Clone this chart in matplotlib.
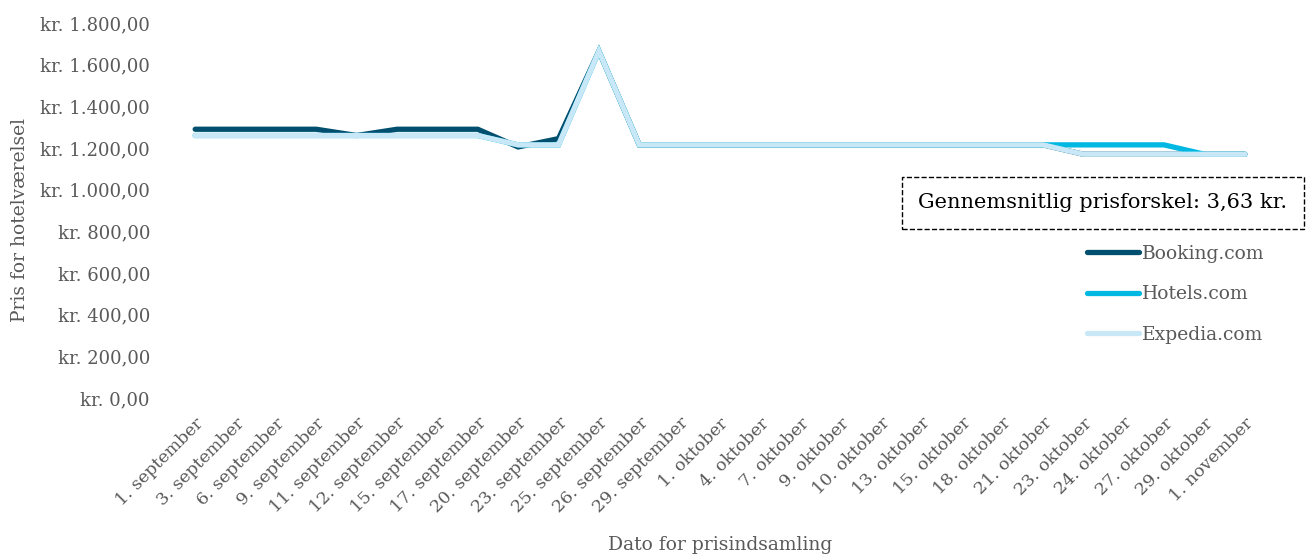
import matplotlib
matplotlib.use("Agg")
import matplotlib.pyplot as plt
from matplotlib.ticker import FuncFormatter, MultipleLocator

datoer = ["1. september", "3. september", "6. september", "9. september",
          "11. september", "12. september", "15. september", "17. september",
          "20. september", "23. september", "25. september", "26. september",
          "29. september", "1. oktober", "4. oktober", "7. oktober",
          "9. oktober", "10. oktober", "13. oktober", "15. oktober",
          "18. oktober", "21. oktober", "23. oktober", "24. oktober",
          "27. oktober", "29. oktober", "1. november"]

booking = [1290, 1290, 1290, 1290, 1260, 1290, 1290, 1290, 1205, 1245,
           1665, 1215, 1215, 1215, 1215, 1215, 1215, 1215, 1215, 1215,
           1215, 1215, 1170, 1170, 1170, 1170, 1170]
hotels = [1260, 1260, 1260, 1260, 1260, 1260, 1260, 1260, 1215, 1215,
          1665, 1215, 1215, 1215, 1215, 1215, 1215, 1215, 1215, 1215,
          1215, 1215, 1215, 1215, 1215, 1170, 1170]
expedia = [1260, 1260, 1260, 1260, 1260, 1260, 1260, 1260, 1215, 1215,
           1665, 1215, 1215, 1215, 1215, 1215, 1215, 1215, 1215, 1215,
           1215, 1215, 1170, 1170, 1170, 1170, 1170]

plt.rcParams['font.family'] = ['DejaVu Serif']
grå = "#595959"

fig = plt.figure(figsize=(13.1, 5.58), dpi=100)
ax = fig.add_axes([175/1310, 1 - 398/558, 1090/1310, 375/558])

x = list(range(len(datoer)))
ax.plot(x, booking, color="#004f6e", lw=3.8, solid_capstyle="round", solid_joinstyle="miter", label="Booking.com")
ax.plot(x, hotels, color="#00b8e2", lw=3.8, solid_capstyle="round", solid_joinstyle="miter", label="Hotels.com")
ax.plot(x, expedia, color="#c8e8f7", lw=3.8, solid_capstyle="round", solid_joinstyle="miter", label="Expedia.com")

ax.set_xlim(-0.5, len(datoer) - 0.5)
ax.set_ylim(0, 1800)
ax.yaxis.set_major_locator(MultipleLocator(200))

def kr(v, pos):
    s = f"{v:,.2f}".replace(",", "X").replace(".", ",").replace("X", ".")
    return "kr. " + s

ax.yaxis.set_major_formatter(FuncFormatter(kr))
ax.set_xticks(x)
ax.set_xticklabels(datoer, rotation=45, ha="right", rotation_mode="anchor")
ax.tick_params(axis="both", length=0, labelcolor=grå)
ax.tick_params(axis="x", pad=12, labelsize=12.5)
ax.tick_params(axis="y", pad=18, labelsize=13)
for s in ax.spines.values():
    s.set_visible(False)

fig.text(20/1310, 1 - 220/558, "Pris for hotelværelsel", rotation=90, ha="center", va="center",
         color=grå, fontsize=13.5)
fig.text(720/1310, 1 - 545/558, "Dato for prisindsamling", ha="center", va="center",
         color=grå, fontsize=13.5)

leg = fig.legend(loc="upper left", bbox_to_anchor=(1070/1310, 1 - 228/558), frameon=False,
                 handlelength=2.8, handletextpad=0.15, labelspacing=1.2, fontsize=13.5)
for t in leg.get_texts():
    t.set_color(grå)

fig.text(1103/1310, 1 - 203/558, "Gennemsnitlig prisforskel: 3,63 kr.", ha="center", va="center",
         fontsize=15, color="black",
         bbox=dict(boxstyle="square,pad=0.8", fc="white", ec="black", ls="--", lw=1))

fig.savefig("out.png", dpi=100)
